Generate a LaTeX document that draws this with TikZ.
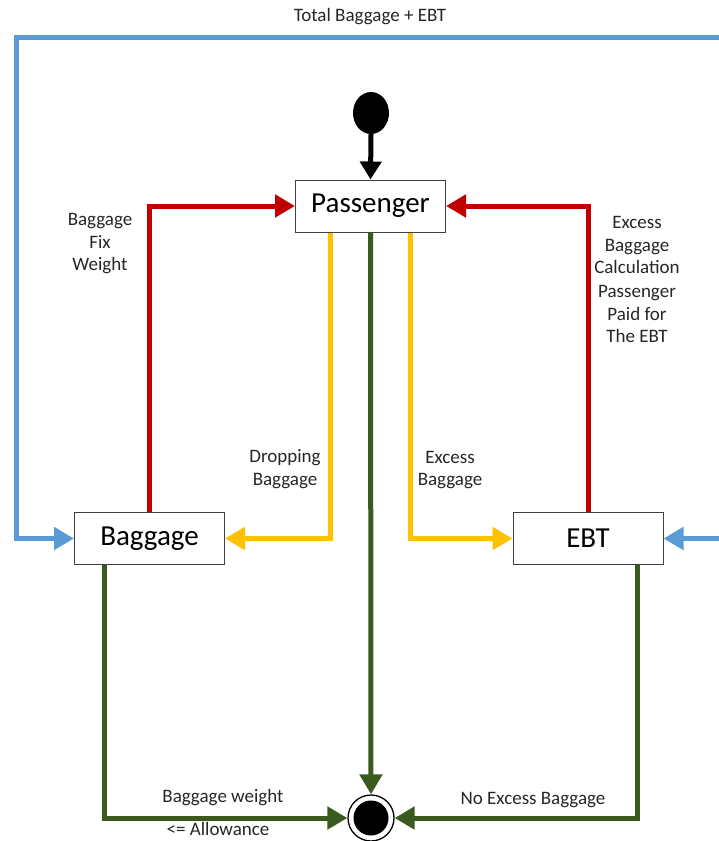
\documentclass[tikz,border=0pt]{standalone}
\usepackage{fontspec}
\setmainfont{Carlito}
\usetikzlibrary{arrows.meta,shapes.geometric}
\definecolor{cblue}{HTML}{5B9BD5}
\definecolor{cred}{HTML}{C00000}
\definecolor{cyel}{HTML}{FFC000}
\definecolor{cgreen}{HTML}{3A5A1E}
\begin{document}
\begin{tikzpicture}[x=1pt,y=-1pt,
  state/.style={draw=black!75,line width=1pt,fill=white,minimum width=150pt,minimum height=52pt,inner sep=0pt,font=\fontsize{29}{32}\selectfont},
  conn/.style={line width=5pt,-{Triangle[length=20pt,width=22pt]}},
  lbl/.style={font=\fontsize{19}{22.5}\selectfont,align=center,inner sep=0pt,text=black!85}]
\useasboundingbox (0,0) rectangle (719,841);
\node[state] (pass) at (370.5,206) {Passenger};
\node[state] (bag) at (149.5,538.5) {Baggage};
\node[state] (ebt) at (588,538.5) {EBT};
\node[ellipse,fill=black,minimum width=36pt,minimum height=42pt,inner sep=0pt] (start) at (371,113) {};
\node[circle,draw=black,line width=1.3pt,fill=white,minimum size=46pt,inner sep=0pt] (end) at (371,818) {};
\fill (end.center) circle (17.5pt);
\coordinate (topR) at (719,37);
\coordinate (topL) at (16,37);
\coordinate (rightIn) at (719,538.5);
% start
\draw[line width=5pt,-{Triangle[length=18pt,width=21pt]}] (start.south) -- (pass.north);
% blue
\draw[conn,cblue] (topR) -- (topL) |- (bag.west);
\draw[conn,cblue] (rightIn) -- (ebt.east);
% red
\draw[conn,cred] (bag.north) |- (pass.west);
\draw[conn,cred] (ebt.north) |- (pass.east);
% yellow
\draw[conn,cyel] ([xshift=-40pt]pass.south) |- (bag.east);
\draw[conn,cyel] ([xshift=40pt]pass.south) |- (ebt.west);
% green
\draw[conn,cgreen] (pass.south) -- (end.north);
\draw[conn,cgreen] ([xshift=-45pt]bag.south) |- (end.west);
\draw[conn,cgreen] ([xshift=49pt]ebt.south) |- (end.east);
% labels
\node[lbl] (l1) at (370,17) {Total Baggage + EBT};
\node[lbl] (l2) at (100,244) {Baggage\\Fix\\Weight};
\node[lbl] (l3) at (637,245) {Excess\\Baggage\\Calculation};
\node[lbl] (l4) at (637,314) {Passenger\\Paid for\\The EBT};
\node[lbl] (l5) at (285,469) {Dropping\\Baggage};
\node[lbl] (l6) at (450,470) {Excess\\Baggage};
\node[lbl] (l7) at (223,798) {Baggage weight};
\node[lbl] (l8) at (218,829) {<= Allowance};
\node[lbl] (l9) at (533,800) {No Excess Baggage};
\end{tikzpicture}
\end{document}
